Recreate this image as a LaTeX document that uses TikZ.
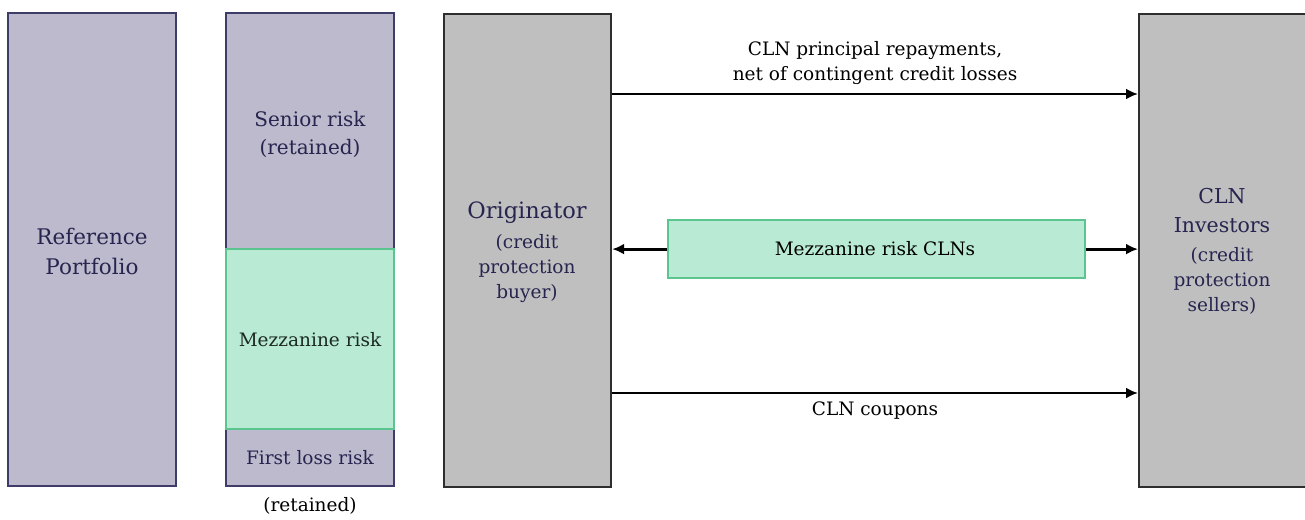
\documentclass[tikz,border=0pt]{standalone}
\usepackage{fontspec}
\setmainfont{DejaVu Serif}
\usetikzlibrary{arrows.meta}
\definecolor{lavfill}{HTML}{BCBACC}
\definecolor{lavline}{HTML}{3E3C68}
\definecolor{navytext}{HTML}{27244F}
\definecolor{mintfill}{HTML}{B9EBD4}
\definecolor{mintline}{HTML}{5CC48E}
\definecolor{mezztext}{HTML}{1C2A22}
\definecolor{greyfill}{HTML}{BFBFBF}
\definecolor{greyline}{HTML}{2E2E2E}
\tikzset{
  lavbox/.style={draw=lavline, fill=lavfill, line width=2.2pt},
  mintbox/.style={draw=mintline, fill=mintfill, line width=2.2pt},
  greybox/.style={draw=greyline, fill=greyfill, line width=2.2pt},
  flow/.style={line width=2.8pt, -{Latex[length=12pt,width=11pt]}},
  big/.style={font=\fontsize{21.5}{30}\selectfont, inner sep=0pt},
  mid/.style={font=\fontsize{18.5}{25}\selectfont, inner sep=0pt},
  senior/.style={font=\fontsize{20}{28}\selectfont, inner sep=0pt},
}
\begin{document}
\begin{tikzpicture}[x=1pt,y=-1pt]
\useasboundingbox (0,0) rectangle (1305,519);
\clip (0,0) rectangle (1305,519);
% reference portfolio
\draw[lavbox] (8,13) rectangle (176,486);
\node[text=navytext, big, align=center] (ref) at (92,251) {Reference\\Portfolio};
% tranches
\draw[lavbox] (226,13) rectangle (394,249);
\draw[lavbox] (226,429) rectangle (394,486);
\draw[mintbox] (226,249) rectangle (394,429);
\node[text=navytext, senior, align=center] (senior) at (310,134) {Senior risk\\(retained)};
\node[text=mezztext, mid] (mezz) at (310,340) {Mezzanine risk};
\node[text=navytext, mid] (first) at (310,458) {First loss risk};
\node[mid] (ret) at (310,506) {(retained)};
% parties
\node[greybox, minimum width=167pt, minimum height=473pt, anchor=north west, inner sep=0pt] (orig) at (443,13) {};
\node[text=navytext, font=\fontsize{22.5}{30}\selectfont] (origname) at (527,213) {Originator};
\node[text=navytext, mid, align=center] (origrole) at (527,269) {(credit\\protection\\buyer)};
\node[greybox, minimum width=172pt, minimum height=473pt, anchor=north west, inner sep=0pt] (inv) at (1138,13) {};
\node[text=navytext, font=\fontsize{20.5}{29}\selectfont, align=center] (invname) at (1222,211) {CLN\\Investors};
\node[text=navytext, mid, align=center] (invrole) at (1222,281) {(credit\\protection\\sellers)};
% notes
\node[mintbox, minimum width=417pt, minimum height=58pt, anchor=north west, inner sep=0pt] (cln) at (667,219) {};
\node[mid, text=black] (clnlab) at (875,249) {Mezzanine risk CLNs};
% flows
\coordinate (o1) at (orig.east |- 0,94);
\coordinate (i1) at (inv.west |- 0,94);
\coordinate (o3) at (orig.east |- 0,393);
\coordinate (i3) at (inv.west |- 0,393);
\draw[flow] (o1) -- (i1);
\draw[flow] (o3) -- (i3);
\draw[flow] (cln.west) -- (orig.east |- cln.west);
\draw[flow] (cln.east) -- (inv.west |- cln.east);
\node[mid, align=center] (lab1) at (875,63) {CLN principal repayments,\\net of contingent credit losses};
\node[mid] (lab3) at (875,411) {CLN coupons};
\end{tikzpicture}
\end{document}
